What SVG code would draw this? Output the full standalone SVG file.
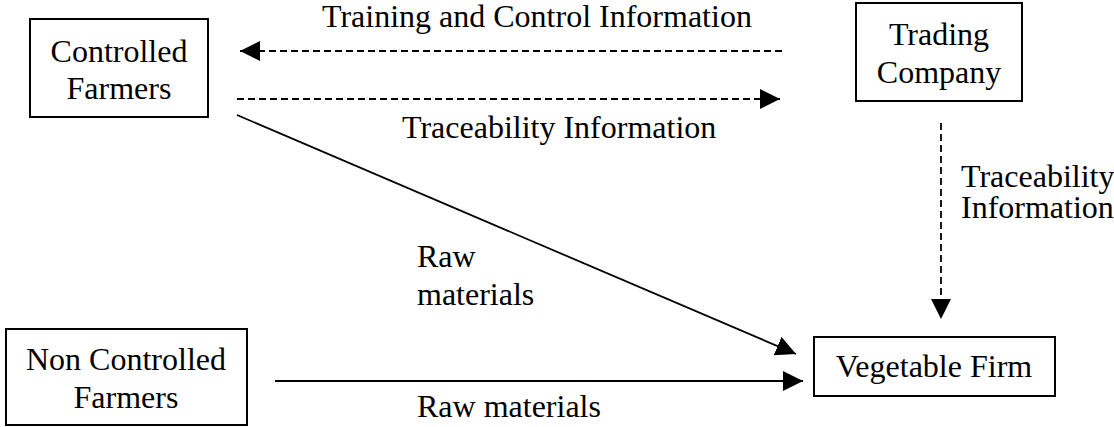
<svg xmlns="http://www.w3.org/2000/svg" width="1114" height="427" viewBox="0 0 1114 427">
<style>
.box{fill:#fff;stroke:#000;stroke-width:2}
.t{font-family:"Liberation Serif","Times New Roman",serif;font-size:32px;fill:#000}
.c{text-anchor:middle}
.ln{stroke:#000;stroke-width:1.8;fill:none}
.d{stroke-dasharray:7 4}
</style>
<defs>
<marker id="ah" markerUnits="userSpaceOnUse" markerWidth="22" markerHeight="22" refX="20" refY="10" orient="auto" viewBox="0 0 22 22">
<path d="M0,0 L20,10 L0,20 z" fill="#000"/>
</marker>
</defs>
<rect width="1114" height="427" fill="#fff"/>
<g id="connectors">
<line class="ln d" x1="782" y1="51" x2="240" y2="51" marker-end="url(#ah)"/>
<line class="ln d" x1="237" y1="99" x2="780" y2="99" marker-end="url(#ah)"/>
<line class="ln d" x1="941" y1="123" x2="941" y2="319" marker-end="url(#ah)"/>
<line class="ln" x1="237" y1="115" x2="796" y2="354" marker-end="url(#ah)"/>
<line class="ln" x1="275" y1="381" x2="803" y2="381" marker-end="url(#ah)"/>
<text class="t" x="322" y="27">Training and Control Information</text>
<text class="t" x="402" y="138">Traceability Information</text>
<text class="t" x="961" y="187">Traceability</text>
<text class="t" x="961" y="218">Information</text>
<text class="t" x="417" y="267">Raw</text>
<text class="t" x="417" y="305">materials</text>
<text class="t" x="417" y="417">Raw materials</text>
</g>
<g id="controlled-farmers">
<rect class="box" x="30" y="19" width="178" height="98"/>
<text class="t c" x="119" y="62">Controlled</text>
<text class="t c" x="119" y="99">Farmers</text>
</g>
<g id="trading-company">
<rect class="box" x="856" y="3" width="166" height="98"/>
<text class="t c" x="939" y="45">Trading</text>
<text class="t c" x="939" y="83">Company</text>
</g>
<g id="vegetable-firm">
<rect class="box" x="814" y="337" width="241" height="59"/>
<text class="t c" x="934" y="377">Vegetable Firm</text>
</g>
<g id="non-controlled-farmers">
<rect class="box" x="6" y="329" width="241" height="96"/>
<text class="t c" x="126" y="370">Non Controlled</text>
<text class="t c" x="126" y="408">Farmers</text>
</g>
</svg>
